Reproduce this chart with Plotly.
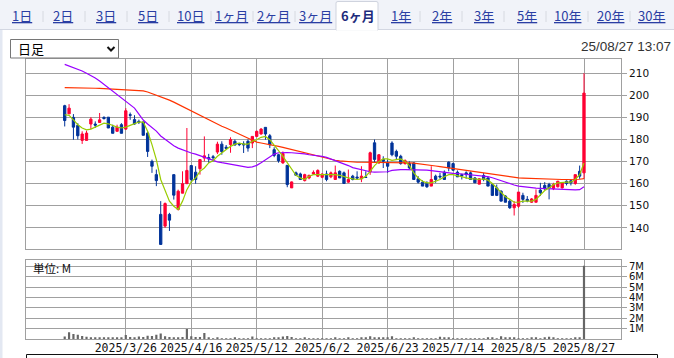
import plotly.graph_objects as go
import pandas as pd

W, H = 674, 358
def px(x): return x / W
def py(y): return 1 - y / H

# ---------------- data ----------------
jp_holidays = ["2025-03-20", "2025-04-29", "2025-05-05", "2025-05-06", "2025-07-21", "2025-08-11"]
dates = [d.strftime("%Y-%m-%d") for d in
         pd.bdate_range("2025-03-05", "2025-08-27", freq="C", holidays=jp_holidays)]

opens = [195.3, 191.6, 190.0, 186.4, 179.6, 179.6, 187.0, 187.0, 187.7, 190.0,
         190.1, 185.6, 183.7, 186.7, 184.7, 191.2, 189.0, 188.2, 187.9, 182.9,
         170.1, 164.1, 146.1, 140.8, 146.1, 164.1, 148.3, 155.7, 160.0, 168.2,
         165.2, 166.8, 171.6, 171.8, 172.2, 174.3, 177.9, 176.5, 177.7, 179.2,
         178.0, 178.0, 179.2, 178.4, 181.4, 182.5, 185.5, 181.7, 175.4, 173.1,
         169.4, 168.3, 158.1, 164.9, 164.4, 161.4, 162.6, 164.4, 163.4, 162.9,
         164.4, 163.1, 161.9, 165.6, 164.9, 160.7, 163.4, 163.0, 162.2, 163.0,
         165.3, 178.5, 169.4, 171.0, 169.4, 178.4, 174.6, 172.4, 169.1, 169.1,
         169.4, 162.2, 160.7, 160.1, 158.9, 163.4, 163.4, 165.2, 169.7, 169.1,
         165.2, 164.1, 164.9, 164.9, 162.6, 159.8, 163.7, 162.6, 159.6, 158.1,
         156.6, 154.4, 152.1, 149.1, 149.8, 154.7, 152.9, 151.6, 151.6, 157.1,
         159.2, 159.6, 157.7, 158.6, 158.1, 161.1, 161.3, 160.1, 165.6, 164.9]
highs = [195.7, 196.0, 191.5, 187.4, 183.7, 184.0, 190.1, 188.2, 192.0, 190.5,
         190.1, 186.7, 186.7, 187.4, 194.2, 192.2, 191.0, 189.0, 188.2, 183.7,
         170.9, 166.4, 152.1, 151.5, 146.8, 164.1, 157.3, 165.6, 185.2, 168.2,
         167.9, 170.9, 181.4, 173.5, 173.0, 179.0, 179.2, 177.5, 181.0, 180.0,
         178.5, 179.2, 180.0, 181.4, 184.0, 185.2, 185.5, 182.5, 176.5, 173.5,
         174.6, 168.3, 161.0, 165.5, 165.0, 164.5, 164.0, 166.0, 166.5, 164.5,
         165.9, 165.5, 168.2, 166.0, 165.5, 166.4, 164.0, 165.6, 167.9, 165.6,
         174.5, 180.0, 173.4, 172.4, 170.9, 179.2, 175.4, 173.1, 171.0, 170.1,
         169.8, 163.4, 161.5, 161.1, 167.9, 164.1, 164.9, 166.0, 170.1, 169.5,
         166.0, 164.5, 165.6, 165.5, 163.0, 162.5, 164.9, 163.0, 160.0, 159.6,
         157.0, 154.8, 152.9, 152.1, 156.2, 155.9, 154.4, 153.5, 157.4, 160.4,
         160.7, 160.4, 160.4, 161.3, 160.7, 161.5, 161.9, 164.1, 168.2, 210.0]
lows = [185.9, 191.6, 179.9, 180.0, 178.0, 179.6, 184.7, 185.2, 187.7, 189.0,
        185.2, 182.8, 183.7, 182.8, 184.4, 188.9, 186.7, 187.0, 181.9, 172.1,
        164.9, 158.9, 132.5, 140.0, 138.6, 152.8, 147.9, 155.7, 160.0, 160.4,
        160.0, 164.1, 170.1, 169.4, 170.1, 173.4, 173.1, 175.5, 174.0, 177.3,
        177.0, 173.9, 174.5, 176.1, 181.4, 182.2, 179.9, 176.1, 172.0, 169.5,
        169.0, 158.4, 158.1, 163.5, 161.9, 161.0, 162.0, 164.0, 163.0, 162.5,
        161.1, 162.5, 161.9, 162.6, 160.1, 160.4, 161.5, 161.9, 160.7, 162.6,
        164.0, 169.5, 169.0, 167.1, 164.9, 172.4, 170.9, 168.6, 168.6, 166.7,
        161.9, 160.1, 158.9, 158.1, 158.9, 160.4, 162.2, 161.9, 165.6, 166.0,
        163.0, 161.9, 162.2, 161.9, 160.4, 159.8, 161.1, 158.9, 154.7, 154.4,
        152.1, 151.6, 148.6, 145.6, 149.1, 151.3, 151.6, 151.3, 151.6, 154.4,
        157.1, 152.9, 157.1, 158.3, 157.8, 159.2, 159.2, 159.5, 162.2, 162.2]
closes = [188.6, 194.2, 185.6, 181.7, 182.5, 182.9, 189.2, 186.5, 188.9, 189.5,
          185.2, 182.8, 185.6, 182.8, 193.0, 191.0, 187.0, 187.9, 181.9, 174.6,
          167.9, 161.4, 132.5, 151.0, 143.5, 154.8, 156.6, 160.0, 166.0, 161.9,
          161.9, 170.9, 172.6, 171.2, 171.8, 177.9, 174.5, 176.0, 180.0, 177.5,
          177.7, 177.6, 176.1, 181.4, 183.7, 184.7, 182.5, 177.6, 172.8, 170.4,
          173.7, 159.6, 160.8, 163.8, 161.9, 164.1, 163.8, 165.1, 166.0, 164.4,
          161.9, 164.9, 164.9, 162.6, 160.1, 161.9, 161.9, 162.6, 163.4, 162.8,
          174.0, 171.0, 173.1, 170.2, 167.9, 173.1, 172.4, 169.1, 170.4, 167.1,
          161.9, 160.7, 158.9, 158.6, 161.9, 161.9, 163.1, 161.9, 167.1, 166.1,
          163.1, 163.6, 164.1, 161.9, 160.4, 162.2, 161.9, 158.9, 154.7, 154.7,
          152.1, 151.6, 149.1, 150.6, 156.2, 152.9, 152.2, 153.1, 154.7, 155.9,
          157.7, 158.1, 159.6, 161.1, 160.4, 160.1, 160.4, 164.1, 163.4, 201.0]

volume_m = [0.23, 0.65, 0.48, 0.42, 0.30, 0.22, 0.16, 0.16, 0.13, 0.10,
            0.13, 0.13, 0.13, 0.10, 0.39, 0.19, 0.16, 0.23, 0.19, 0.32,
            0.29, 0.42, 0.52, 0.26, 0.19, 0.13, 0.13, 0.19, 0.97, 0.26,
            0.19, 0.19, 0.58, 0.10, 0.06, 0.10, 0.06, 0.06, 0.06, 0.13,
            0.06, 0.06, 0.06, 0.23, 0.06, 0.05, 0.05, 0.06, 0.10, 0.16,
            0.23, 0.30, 0.19, 0.06, 0.06, 0.10, 0.06, 0.06, 0.06, 0.06,
            0.06, 0.06, 0.10, 0.06, 0.06, 0.13, 0.06, 0.06, 0.16, 0.10,
            0.26, 0.16, 0.16, 0.16, 0.10, 0.26, 0.06, 0.06, 0.06, 0.06,
            0.13, 0.06, 0.06, 0.06, 0.06, 0.06, 0.22, 0.16, 0.16, 0.06,
            0.06, 0.06, 0.06, 0.06, 0.06, 0.06, 0.06, 0.16, 0.16, 0.06,
            0.26, 0.16, 0.16, 0.13, 0.06, 0.06, 0.06, 0.16, 0.13, 0.06,
            0.16, 0.22, 0.16, 0.06, 0.06, 0.06, 0.06, 0.13, 0.13, 7.05]

ma_short = [191.2, 190.9, 188.9, 186.7, 185.2, 184.4, 184.7, 185.6, 186.7, 187.4,
            187.1, 186.2, 185.6, 185.2, 185.6, 186.4, 187.0, 187.9, 187.9, 183.7,
            177.7, 170.9, 161.9, 156.6, 152.1, 149.8, 148.3, 152.1, 157.3, 160.8,
            162.6, 165.6, 167.1, 169.4, 170.4, 172.4, 173.9, 175.4, 176.9, 177.9,
            178.4, 177.9, 177.9, 179.2, 179.9, 181.0, 181.4, 179.9, 177.7, 175.0,
            172.4, 169.4, 166.4, 163.8, 162.6, 161.9, 163.4, 164.1, 164.1, 164.1,
            164.4, 164.4, 164.1, 163.8, 163.1, 162.6, 162.2, 161.9, 162.2, 163.4,
            165.6, 168.2, 170.1, 171.2, 171.2, 170.6, 170.9, 171.2, 170.1, 168.2,
            164.9, 162.6, 161.1, 160.4, 160.4, 161.1, 161.9, 163.1, 164.1, 164.1,
            163.7, 163.1, 162.6, 162.2, 162.2, 161.9, 162.2, 161.6, 160.1, 158.1,
            155.9, 154.1, 152.9, 151.6, 151.6, 152.1, 152.1, 152.1, 152.9, 155.1,
            156.9, 158.1, 159.6, 160.4, 160.7, 160.7, 160.7, 161.9, 164.1, 169.4]
ma_mid = [214.0, 213.3, 212.5, 211.8, 211.0, 210.0, 209.0, 207.8, 206.5, 205.0,
          203.5, 202.0, 200.5, 198.8, 197.5, 195.8, 194.2, 191.5, 188.8, 187.0,
          185.5, 183.8, 181.6, 180.0, 178.5, 177.2, 176.1, 175.3, 174.6, 173.9,
          173.4, 172.7, 172.0, 171.2, 170.3, 169.9, 169.5, 169.2, 168.9, 168.5,
          168.1, 167.7, 167.4, 167.6, 168.3, 169.5, 170.9, 172.2, 173.4, 174.0,
          174.2, 174.1, 174.0, 173.9, 173.7, 173.5, 173.1, 172.9, 172.7, 172.4,
          171.9, 171.2, 170.5, 169.8, 169.0, 168.2, 167.3, 166.8, 166.2, 165.7,
          165.4, 165.2, 165.2, 165.2, 165.4, 166.0, 166.3, 166.4, 166.4, 166.4,
          166.4, 166.4, 166.3, 166.1, 165.9, 165.6, 165.3, 165.0, 164.9, 164.7,
          164.6, 164.4, 164.2, 164.1, 164.0, 163.8, 163.6, 163.2, 162.7, 162.0,
          161.4, 160.6, 160.0, 159.4, 158.9, 158.6, 158.3, 158.1, 158.0, 157.9,
          157.8, 157.6, 157.5, 157.4, 157.3, 157.2, 157.2, 157.2, 157.3, 158.6]
ma_long = [203.5, 203.5, 203.4, 203.4, 203.3, 203.3, 203.2, 203.2, 203.1, 203.0,
           203.0, 202.9, 202.8, 202.7, 202.6, 202.5, 202.4, 202.3, 202.0, 201.5,
           200.8, 200.2, 199.5, 198.7, 197.8, 196.9, 195.9, 194.9, 193.9, 192.7,
           191.7, 190.7, 189.7, 188.8, 187.9, 187.0, 186.0, 185.2, 184.3, 183.3,
           182.3, 181.4, 180.5, 179.6, 178.8, 178.4, 178.1, 177.8, 177.4, 176.9,
           176.4, 175.9, 175.5, 175.0, 174.5, 174.0, 173.5, 173.0, 172.4, 171.8,
           171.4, 171.0, 170.6, 170.3, 170.1, 169.9, 169.8, 169.7, 169.7, 169.7,
           169.7, 169.7, 169.7, 169.6, 169.6, 169.6, 169.6, 169.5, 169.5, 169.4,
           169.3, 169.1, 168.9, 168.6, 168.3, 168.0, 167.7, 167.4, 167.1, 166.8,
           166.5, 166.2, 165.9, 165.6, 165.3, 165.0, 164.7, 164.4, 164.1, 163.8,
           163.5, 163.2, 163.0, 162.8, 162.6, 162.5, 162.4, 162.3, 162.2, 162.1,
           162.0, 162.0, 161.9, 161.9, 161.9, 161.9, 161.9, 161.9, 162.0, 162.3]

tick_dates = ["2025-03-26", "2025-04-16", "2025-05-12", "2025-06-02",
              "2025-06-23", "2025-07-14", "2025-08-05", "2025-08-27"]
tick_labels = ["2025/3/26", "2025/4/16", "2025/5/12", "2025/6/2",
               "2025/6/23", "2025/7/14", "2025/8/5", "2025/8/27"]
price_ticks = [140, 150, 160, 170, 180, 190, 200, 210]
vol_ticks = [1, 2, 3, 4, 5, 6, 7]
vol_labels = ["1M", "2M", "3M", "4M", "5M", "6M", "7M"]

tabs = ["1日", "2日", "3日", "5日", "10日", "1ヶ月", "2ヶ月", "3ヶ月",
        "6ヶ月", "1年", "2年", "3年", "5年", "10年", "20年", "30年"]
tab_x = [21.5, 63, 106, 147.5, 190, 231.5, 273.5, 315.5,
         357.5, 400.5, 441.5, 484, 526.5, 567.5, 610, 651.5]
selected_tab = "6ヶ月"
sep_x = [43, 85, 127, 169, 211, 253, 295, 420, 462, 504, 546, 588, 630]

# ---------------- style ----------------
UP = "#ff0033"
DOWN = "#003399"
GRID = "#a0a0a0"
AXFONT = dict(family="DejaVu Sans", size=10.5, color="#111")
x_range = [-8.87, 127.48]

fig = go.Figure()
fig.add_trace(go.Candlestick(
    x=dates, open=opens, high=highs, low=lows, close=closes,
    increasing=dict(line=dict(color=UP, width=1), fillcolor=UP),
    decreasing=dict(line=dict(color=DOWN, width=1), fillcolor=DOWN),
    whiskerwidth=0, xaxis="x", yaxis="y", hoverinfo="skip", showlegend=False))
for vals, col in [(ma_long, "#ff3300"), (ma_mid, "#9900ff"), (ma_short, "#99cc00")]:
    fig.add_trace(go.Scatter(x=dates, y=vals, mode="lines",
                             line=dict(color=col, width=1.2),
                             xaxis="x", yaxis="y", hoverinfo="skip", showlegend=False))
fig.add_trace(go.Bar(x=dates, y=volume_m, width=0.5, marker=dict(color="#666666", line=dict(width=0)),
                     xaxis="x2", yaxis="y2", hoverinfo="skip", showlegend=False))

common_x = dict(type="category", range=x_range, domain=[px(26), px(621)],
                tickmode="array", tickvals=tick_dates, showgrid=True, gridcolor=GRID,
                gridwidth=1, showline=True, mirror=True, linecolor=GRID, linewidth=1,
                zeroline=False, fixedrange=True)
fig.update_layout(
    width=W, height=H, margin=dict(l=0, r=0, t=0, b=0),
    paper_bgcolor="white", plot_bgcolor="white", boxgap=0.25, bargap=0.5,
    xaxis=dict(**common_x, anchor="y", showticklabels=False, ticks="",
               rangeslider=dict(visible=False)),
    xaxis2=dict(**common_x, anchor="y2", matches="x", ticktext=tick_labels, ticks="",
                ticklabelstandoff=-2,
                tickfont=dict(family="DejaVu Sans Mono", size=11.5, color="#111")),
    yaxis=dict(domain=[py(249.3), py(59.3)], range=[130.3, 216.3], side="right",
               tickmode="array", tickvals=price_ticks, ticks="outside", ticklen=5,
               tickcolor=GRID, showgrid=True, gridcolor=GRID, showline=True, mirror=True,
               linecolor=GRID, zeroline=False, tickfont=AXFONT, anchor="x", fixedrange=True),
    yaxis2=dict(domain=[py(339), py(260.3)], range=[0, 7.57], side="right",
                tickmode="array", tickvals=vol_ticks, ticktext=vol_labels, ticks="outside",
                ticklen=5, tickcolor=GRID, showgrid=True, gridcolor=GRID, showline=True,
                mirror=True, linecolor=GRID, zeroline=False,
                tickfont=dict(family="DejaVu Sans", size=10, color="#111"), anchor="x2",
                fixedrange=True),
)

shapes = []
# tab strip
shapes.append(dict(type="rect", xref="paper", yref="paper", x0=0, x1=1, y0=py(29.5), y1=1,
                   fillcolor="#f1f3f9", line=dict(width=0), layer="below"))
shapes.append(dict(type="line", xref="paper", yref="paper", x0=0, x1=1, y0=py(29.5), y1=py(29.5),
                   line=dict(color="#d3d7e2", width=1)))
for sx in sep_x:
    shapes.append(dict(type="line", xref="paper", yref="paper", x0=px(sx), x1=px(sx),
                       y0=py(11), y1=py(22), line=dict(color="#d6d9e0", width=1)))
# selected tab
shapes.append(dict(type="path", xref="paper", yref="paper",
                   path=f"M {px(336)} {py(30)} L {px(336)} {py(3)} Q {px(336)} {py(1.5)} {px(338)} {py(1.5)} "
                        f"L {px(376)} {py(1.5)} Q {px(378)} {py(1.5)} {px(378)} {py(3)} L {px(378)} {py(30)} Z",
                   fillcolor="white", line=dict(color="#cfd3de", width=1)))
shapes.append(dict(type="line", xref="paper", yref="paper", x0=px(336.6), x1=px(377.4),
                   y0=py(29.8), y1=py(29.8), line=dict(color="white", width=2)))
# left strip
shapes.append(dict(type="rect", xref="paper", yref="paper", x0=0, x1=px(2.5), y0=0, y1=py(30),
                   fillcolor="#e3e8f2", line=dict(width=0)))
# dropdown box
shapes.append(dict(type="rect", xref="paper", yref="paper", x0=px(10.5), x1=px(118.5),
                   y0=py(58), y1=py(39.5), fillcolor="white", line=dict(color="#767676", width=1)))
shapes.append(dict(type="path", xref="paper", yref="paper",
                   path=f"M {px(107.5)} {py(47)} L {px(111)} {py(50.5)} L {px(114.5)} {py(47)}",
                   line=dict(color="#111", width=2)))
# bottom table border
shapes.append(dict(type="path", xref="paper", yref="paper",
                   path=f"M {px(26.5)} {py(360)} L {px(26.5)} {py(354.5)} L {px(657.5)} {py(354.5)} L {px(657.5)} {py(360)}",
                   line=dict(color="#111", width=1)))
fig.update_layout(shapes=shapes)

ann = []
for t, x in zip(tabs, tab_x):
    if t == selected_tab:
        ann.append(dict(text=f"<b>{t}</b>", x=px(x), y=py(16), xref="paper", yref="paper",
                        showarrow=False, xanchor="center", yanchor="middle",
                        font=dict(family="Noto Sans CJK JP", size=13, color="#1d2b7c")))
    else:
        ann.append(dict(text=f"<u>{t}</u>", x=px(x), y=py(16), xref="paper", yref="paper",
                        showarrow=False, xanchor="center", yanchor="middle",
                        font=dict(family="Noto Sans CJK JP", size=13, color="#2a3ea3")))
ann.append(dict(text="日足", x=px(16), y=py(48.5), xref="paper", yref="paper", showarrow=False,
                xanchor="left", yanchor="middle",
                font=dict(family="Noto Sans CJK JP", size=13, color="#000")))
ann.append(dict(text="25/08/27 13:07", x=px(673), y=py(46), xref="paper", yref="paper",
                showarrow=False, xanchor="right", yanchor="middle",
                font=dict(family="Liberation Sans", size=13.5, color="#333")))
ann.append(dict(text="単位: M", x=px(31), y=py(268), xref="paper", yref="paper",
                showarrow=False, xanchor="left", yanchor="middle",
                font=dict(family="Noto Sans CJK JP", size=11.5, color="#111")))
fig.update_layout(annotations=ann)

fig.write_html("out.html", config={"displayModeBar": False},
               post_script="document.body.style.margin='0';document.body.style.overflow='hidden';")
